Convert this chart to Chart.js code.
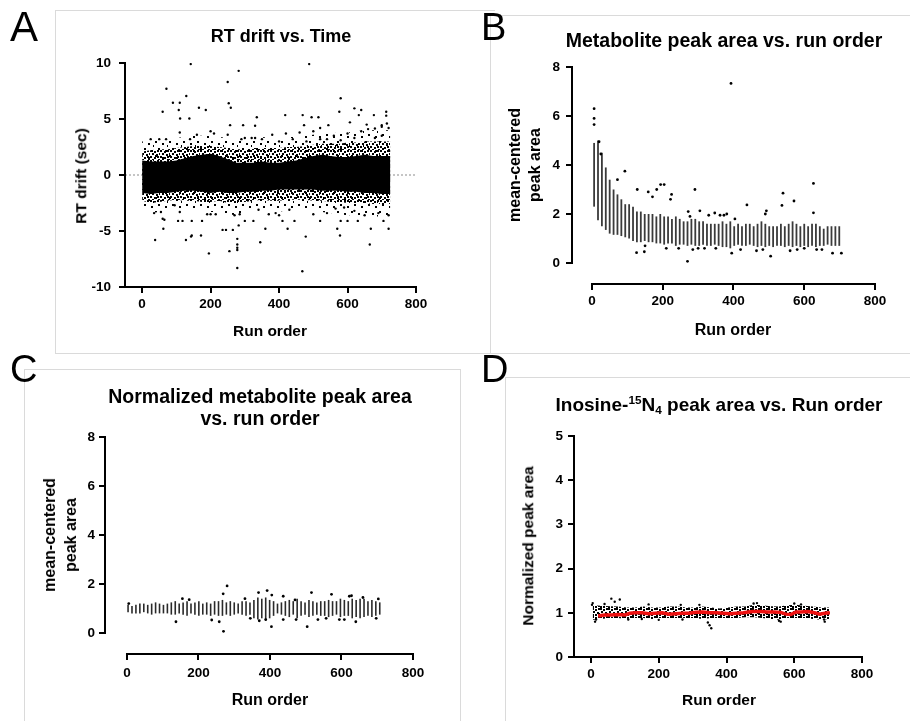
<!DOCTYPE html>
<html><head><meta charset="utf-8">
<script src="https://cdn.jsdelivr.net/npm/chart.js@4.4.1/dist/chart.umd.min.js"></script>
<style>
html,body{margin:0;padding:0;background:#fff;}
#page{position:relative;width:910px;height:721px;overflow:hidden;background:#fff;font-family:"Liberation Sans",Arial,sans-serif;color:#000;}
canvas{position:absolute;}
.box{position:absolute;border:1px solid #dadada;box-sizing:border-box;}
.lbl{position:absolute;line-height:1;font-family:"Liberation Sans",Arial,sans-serif;}
.ttl{position:absolute;font-weight:bold;white-space:nowrap;transform:translateX(-50%);text-align:center;line-height:1;}
.yt{position:absolute;font-weight:bold;white-space:nowrap;text-align:center;transform:translate(-50%,-50%) rotate(-90deg);}
.sup{position:relative;font-size:0.62em;top:-0.6em;}
.sub{position:relative;font-size:0.62em;top:0.25em;}
</style></head><body>
<div id="page">
  <div class="box" style="left:55px;top:10px;width:440px;height:344px;border-right:none;"></div>
  <div class="box" style="left:490px;top:15px;width:440px;height:339px;"></div>
  <div class="box" style="left:24px;top:369px;width:437px;height:370px;"></div>
  <div class="box" style="left:505px;top:377px;width:420px;height:360px;"></div>

  <canvas id="cA" width="470" height="350" style="left:0;top:0;"></canvas>
  <canvas id="cB" width="430" height="350" style="left:480px;top:0;"></canvas>
  <canvas id="cC" width="470" height="361" style="left:0;top:360px;"></canvas>
  <canvas id="cD" width="430" height="361" style="left:480px;top:360px;"></canvas>

  <div class="lbl" style="left:10px;top:6px;font-size:42px;">A</div>
  <div class="lbl" style="left:481px;top:8px;font-size:38px;">B</div>
  <div class="lbl" style="left:10px;top:350px;font-size:38px;">C</div>
  <div class="lbl" style="left:481px;top:350px;font-size:38px;">D</div>

  <div class="ttl" style="left:281px;top:27px;font-size:18px;">RT drift vs. Time</div>
  <div class="ttl" style="left:724px;top:31px;font-size:19.5px;">Metabolite peak area vs. run order</div>
  <div class="ttl" style="left:260px;top:385px;font-size:19.5px;line-height:22px;">Normalized metabolite peak area<br>vs. run order</div>
  <div class="ttl" style="left:719px;top:395px;font-size:19px;">Inosine-<span class="sup">15</span>N<span class="sub">4</span> peak area vs. Run order</div>

  <div class="ttl" style="left:270px;top:323px;font-size:15.5px;">Run order</div>
  <div class="ttl" style="left:733px;top:322px;font-size:16px;">Run order</div>
  <div class="ttl" style="left:270px;top:692px;font-size:16px;">Run order</div>
  <div class="ttl" style="left:719px;top:692px;font-size:15.5px;">Run order</div>

  <div class="yt" style="left:81px;top:176px;font-size:15.5px;line-height:1;">RT drift (sec)</div>
  <div class="yt" style="left:525px;top:165px;font-size:16px;line-height:20px;">mean-centered<br>peak area</div>
  <div class="yt" style="left:60px;top:535px;font-size:16px;line-height:21px;">mean-centered<br>peak area</div>
  <div class="yt" style="left:528px;top:546px;font-size:15.5px;line-height:1;">Normalized peak area</div>
</div>
<script>
// ---------------- DATA ----------------
// Panel A: RT drift vs run order (density envelope read from the picture + individual outliers)
const A_bandRun = [0,25,50,75,100,125,150,175,200,225,250,275,300,325,350,375,400,425,450,475,500,525,550,575,600,625,650,675,700,725];
const A_coreHi = [1.3,1.2,1.2,1.2,1.3,1.5,1.7,1.8,1.9,1.7,1.4,1.1,1.1,1.1,1.2,1.1,1.1,1.2,1.3,1.5,1.7,1.8,1.7,1.6,1.6,1.7,1.8,1.7,1.7,1.7];
const A_coreLo = [-1.6,-1.7,-1.6,-1.6,-1.5,-1.4,-1.4,-1.5,-1.6,-1.5,-1.6,-1.6,-1.5,-1.5,-1.4,-1.4,-1.3,-1.3,-1.3,-1.3,-1.3,-1.4,-1.4,-1.4,-1.5,-1.5,-1.6,-1.6,-1.7,-1.7];
const A_midHi  = [2.1,2.2,2.3,2.3,2.4,2.5,2.6,2.6,2.6,2.5,2.4,2.3,2.3,2.4,2.4,2.4,2.4,2.5,2.5,2.6,2.7,2.8,2.8,2.8,2.9,2.9,3.0,3.0,3.0,3.0];
const A_midLo  = [-2.3,-2.5,-2.4,-2.3,-2.2,-2.3,-2.3,-2.4,-2.4,-2.3,-2.5,-2.5,-2.4,-2.3,-2.2,-2.3,-2.3,-2.2,-2.2,-2.2,-2.3,-2.3,-2.4,-2.4,-2.5,-2.5,-2.5,-2.6,-2.6,-2.6];
const A_outHi  = [3.0,3.2,3.2,3.2,3.3,3.4,3.5,3.5,3.5,3.4,3.3,3.3,3.3,3.3,3.4,3.3,3.3,3.4,3.4,3.5,3.6,3.7,3.7,3.8,3.8,3.9,4.0,4.0,4.0,4.0];
const A_outLo  = [-3.0,-3.4,-3.3,-3.1,-3.0,-3.1,-3.1,-3.2,-3.3,-3.3,-3.5,-3.6,-3.3,-3.2,-3.1,-3.2,-3.3,-3.1,-3.1,-3.1,-3.2,-3.3,-3.4,-3.5,-3.6,-3.6,-3.6,-3.7,-3.7,-3.7];
const A_ptRun  = [142,282,488,71,250,129,580,90,110,253,259,166,186,60,107,620,640,633,576,713,713,138,111,335,418,469,495,515,677,656,680,257,295,330,473,520,544,700,607,
                  110,210,250,330,380,420,460,500,560,600,640,660,700,715,720,25,50,70,140,160,200,290,300,320,350,400,440,480,520,540,580,620,680,700,
                  468,278,195,278,278,278,255,345,38,128,145,143,172,478,578,665,62,235,245,265,360,425,570,668,720,105,118,145,175,300,325,410,445,520,580,600,630,705,
                  35,55,60,65,95,110,190,200,215,270,285,340,370,390,400,430,500,540,565,590,620,650,690,720,278,282];
const A_ptVal  = [9.9,9.3,9.9,7.7,8.3,7.05,6.85,6.45,6.45,6.4,6.0,6.0,5.8,5.65,5.8,5.95,5.8,5.35,5.65,5.65,5.3,5.05,5.05,5.15,5.35,5.35,5.15,5.15,5.35,4.5,4.15,4.45,4.45,4.4,4.45,4.2,4.45,4.45,4.7,
                  3.8,3.7,3.6,3.3,3.6,3.7,3.8,3.9,3.5,3.7,3.9,4.1,4.3,4.6,4.2,3.2,3.2,3.2,3.2,3.6,3.9,3.2,3.3,3.3,3.2,3.0,3.2,3.0,3.2,3.2,3.1,3.3,3.3,3.5,
                  -8.6,-8.3,-7.0,-6.7,-6.5,-6.2,-6.8,-6.0,-5.8,-5.8,-5.4,-5.5,-5.4,-5.5,-5.4,-6.2,-4.8,-4.9,-4.9,-4.9,-4.8,-4.8,-4.8,-4.8,-4.8,-4.1,-4.1,-4.1,-4.1,-4.1,-4.1,-4.1,-4.1,-4.1,-4.1,-4.1,-4.1,-4.1,
                  -3.4,-3.3,-3.9,-4.0,-2.7,-3.3,-3.5,-3.5,-3.5,-3.6,-3.5,-3.1,-3.5,-3.4,-3.6,-3.1,-3.5,-3.4,-3.0,-2.9,-3.2,-3.6,-3.4,-3.6,-5.7,-4.5];
const A_refLine = 0;
const A_xTicks = [0,200,400,600,800];
const A_yTicks = [-10,-5,0,5,10];

// Panel B: metabolite peak area per run (column ranges + outliers)
const B_runs = [6,17,28,39,50,61,72,83,94,105,116,127,138,149,160,171,182,193,204,215,226,237,248,259,270,281,292,303,314,325,336,347,358,369,380,391,402,413,424,435,446,457,468,479,490,501,512,523,534,545,556,567,578,589,600,611,622,633,644,655,666,677,688,699];
const B_hi = [4.9,5.0,4.5,3.9,3.4,3.0,2.8,2.6,2.4,2.4,2.3,2.1,2.1,2.0,2.0,2.0,1.9,2.0,1.9,1.9,1.8,1.9,1.8,1.7,1.7,1.8,1.8,1.7,1.7,1.6,1.6,1.6,1.6,1.7,1.6,1.7,1.5,1.6,1.5,1.6,1.6,1.5,1.6,1.7,1.6,1.5,1.5,1.5,1.6,1.5,1.6,1.7,1.6,1.5,1.6,1.5,1.6,1.6,1.5,1.4,1.5,1.5,1.5,1.5];
const B_lo = [2.3,1.75,1.5,1.35,1.2,1.15,1.15,1.1,1.05,1.0,0.9,0.85,0.85,0.9,0.85,0.85,0.8,0.8,0.75,0.8,0.8,0.7,0.75,0.75,0.7,0.75,0.7,0.7,0.75,0.7,0.7,0.75,0.7,0.65,0.65,0.6,0.7,0.75,0.7,0.7,0.75,0.7,0.65,0.7,0.65,0.7,0.65,0.7,0.7,0.65,0.7,0.65,0.7,0.65,0.7,0.65,0.7,0.65,0.7,0.7,0.75,0.7,0.7,0.7];
const B_ptRun = [393,6,6,6,20,25,93,72,128,159,171,183,194,204,225,222,291,438,540,537,571,626,626,493,490,272,277,305,330,347,362,373,381,404,270,126,148,505,395,680,705,635,650,318,465,483,150,210,245,285,300,350,420,560,580,600];
const B_ptVal = [7.33,6.3,5.9,5.65,4.95,4.45,3.75,3.4,3.0,2.9,2.7,3.0,3.2,3.2,2.8,2.6,3.0,2.37,2.85,2.35,2.53,3.25,2.05,2.13,2.0,2.1,1.9,2.13,1.95,2.04,1.95,1.95,2.0,1.8,0.07,0.42,0.46,0.28,0.4,0.4,0.4,0.55,0.55,0.6,0.5,0.55,0.7,0.6,0.6,0.55,0.6,0.6,0.55,0.5,0.55,0.6];
const B_xTicks = [0,200,400,600,800];
const B_yTicks = [0,2,4,6,8];

// Panel C: normalized metabolite peak area per run
const C_runs = [3,14,25,36,47,58,69,80,91,102,113,124,135,146,157,168,179,190,201,212,223,234,245,256,267,278,289,300,311,322,333,344,355,366,377,388,399,410,421,432,443,454,465,476,487,498,509,520,531,542,553,564,575,586,597,608,619,630,641,652,663,674,685,696,707];
const C_hi = [1.15,1.1,1.15,1.2,1.2,1.15,1.2,1.25,1.2,1.15,1.2,1.25,1.3,1.2,1.25,1.3,1.2,1.25,1.3,1.2,1.25,1.2,1.3,1.3,1.35,1.25,1.3,1.25,1.2,1.3,1.3,1.25,1.35,1.45,1.4,1.45,1.35,1.3,1.2,1.25,1.3,1.35,1.3,1.4,1.3,1.25,1.35,1.3,1.25,1.3,1.3,1.35,1.3,1.3,1.4,1.35,1.3,1.4,1.35,1.4,1.4,1.3,1.35,1.3,1.25];
const C_lo = [0.85,0.8,0.8,0.8,0.85,0.8,0.75,0.8,0.8,0.8,0.8,0.75,0.75,0.8,0.75,0.7,0.8,0.75,0.7,0.75,0.75,0.7,0.75,0.7,0.7,0.75,0.7,0.75,0.8,0.75,0.7,0.75,0.6,0.55,0.6,0.5,0.6,0.7,0.8,0.75,0.7,0.65,0.75,0.6,0.7,0.75,0.65,0.7,0.75,0.7,0.7,0.65,0.7,0.75,0.65,0.7,0.7,0.6,0.65,0.6,0.65,0.7,0.65,0.7,0.75];
const C_ptRun = [280,270,368,392,405,437,516,572,622,628,703,269,404,504,137,237,258,370,388,155,174,345,437,473,534,557,594,608,640,697,5,660,470,330];
const C_ptVal = [1.92,0.07,1.65,1.73,1.55,1.5,1.65,1.58,1.5,1.52,1.39,1.6,0.26,0.26,0.46,0.53,0.46,0.5,0.55,1.4,1.36,0.6,0.55,0.55,0.55,0.6,0.55,0.55,0.46,0.6,1.2,1.45,1.35,1.4];
const C_xTicks = [0,200,400,600,800];
const C_yTicks = [0,2,4,6,8];

// Panel D: Inosine-15N4 normalized peak area (cloud envelope, outliers, running average)
const D_bandRun = [5,30,55,80,105,130,155,180,205,230,255,280,305,330,355,380,405,430,455,480,505,530,555,580,605,630,655,680,705];
const D_hi = [1.17,1.16,1.15,1.14,1.12,1.12,1.14,1.12,1.12,1.14,1.14,1.12,1.12,1.14,1.12,1.1,1.12,1.14,1.14,1.18,1.17,1.15,1.14,1.17,1.18,1.16,1.14,1.12,1.12];
const D_lo = [0.84,0.86,0.88,0.88,0.86,0.88,0.88,0.86,0.88,0.88,0.88,0.88,0.88,0.86,0.88,0.88,0.88,0.88,0.9,0.9,0.88,0.86,0.84,0.88,0.88,0.88,0.86,0.84,0.86];
const D_ptRun = [60,70,85,5,3,12,15,350,355,345,555,560,690,688,110,200,270,150,480,490,600,620,40,170,265,320];
const D_ptVal = [1.32,1.25,1.3,1.22,1.18,0.8,0.85,0.72,0.65,0.78,0.82,0.8,0.8,0.85,0.85,0.84,0.85,0.86,1.21,1.22,1.21,1.19,1.2,1.19,1.18,1.18];
const D_maRun = [21,40,60,80,100,115,130,150,170,190,210,230,250,270,290,310,330,350,370,390,410,430,450,465,480,500,520,540,560,575,590,605,620,640,660,675,690,705];
const D_maVal = [0.93,0.95,0.95,0.96,0.95,0.99,1.0,1.0,0.98,0.99,1.0,0.97,0.98,0.99,0.99,1.01,1.02,1.0,1.0,0.99,0.98,0.99,1.0,1.02,1.03,1.03,1.02,1.02,1.01,0.97,0.96,1.02,1.02,1.03,1.0,0.97,0.99,1.0];
const D_xTicks = [0,200,400,600,800];
const D_yTicks = [0,1,2,3,4,5];

// ---------------- STYLE HELPERS ----------------
function dotPattern(size, dots, w, h){
  const c = document.createElement('canvas'); c.width = size; c.height = size;
  const g = c.getContext('2d'); g.fillStyle = '#000';
  dots.forEach(d => g.fillRect(d[0], d[1], w || 2, h || 2));
  return g.createPattern(c, 'repeat');
}
const densePat  = dotPattern(10, [[0,0],[4,1],[7,0],[2,3],[6,4],[9,3],[0,6],[4,7],[7,6],[2,9],[8,9]]);
const cloudPat  = dotPattern(8, [[0,0],[3,1],[6,0],[1,3],[5,4],[0,6],[3,6],[6,5]]);
const sparsePat = dotPattern(14, [[1,1],[8,3],[4,8],[11,10],[13,5]]);

const FONT = 'Liberation Sans';
function axis(min, max, ticks, isX, pad){
  return {
    type: 'linear', min: min, max: max, offset: false,
    afterBuildTicks: s => { s.ticks = ticks.map(v => ({value: v})); },
    afterFit: s => { if (isX) s.height = 35; else s.width = 45; },
    grid: {display: true, drawOnChartArea: false, drawTicks: true, tickLength: 6, tickWidth: 2, tickColor: '#000', lineWidth: 2, color: '#000', offset: false},
    border: {display: false},
    ticks: {color: '#000', font: {family: FONT, weight: 'bold', size: 13.5}, padding: pad, maxRotation: 0, autoSkip: false, callback: v => String(v)}
  };
}
const axisLinePlugin = {
  id: 'axisLines',
  afterDraw(chart, args, o){
    const ctx = chart.ctx, a = chart.chartArea, x = chart.scales.x, y = chart.scales.y;
    ctx.save(); ctx.strokeStyle = '#000'; ctx.lineWidth = 2; ctx.lineCap = 'square';
    ctx.beginPath();
    ctx.moveTo(x.getPixelForValue(o.x[0]), a.bottom); ctx.lineTo(x.getPixelForValue(o.x[1]), a.bottom);
    ctx.moveTo(a.left, y.getPixelForValue(o.y[0])); ctx.lineTo(a.left, y.getPixelForValue(o.y[1]));
    ctx.stroke(); ctx.restore();
  }
};
// filled envelope between two line datasets (lower first, upper fills to it)
function band(xs, lo, hi, fillStyle, order){
  const lower = {type: 'line', data: xs.map((x, i) => ({x: x, y: lo[i]})), borderColor: 'rgba(0,0,0,0)', borderWidth: 0, pointRadius: 0, fill: false, tension: 0, order: order};
  const upper = {type: 'line', data: xs.map((x, i) => ({x: x, y: hi[i]})), borderColor: 'rgba(0,0,0,0)', borderWidth: 0, pointRadius: 0, fill: '-1', backgroundColor: fillStyle, tension: 0, order: order};
  return [lower, upper];
}
function rangeBars(xs, lo, hi, color, order, thick){
  return {type: 'bar', data: xs.map((x, i) => ({x: x, y: [lo[i], hi[i]]})), backgroundColor: color,
    borderWidth: 0, grouped: false, order: order, barThickness: thick, inflateAmount: 0};
}
function points(xs, ys, r, order){
  return {type: 'scatter', data: xs.map((x, i) => ({x: x, y: ys[i]})), pointRadius: r, pointBackgroundColor: '#000',
    pointBorderWidth: 0, order: order};
}
function makeChart(id, datasets, pad, xs, ys, lines){
  return new Chart(document.getElementById(id), {
    type: 'bar',
    data: {datasets: datasets},
    options: {
      responsive: false, animation: false, devicePixelRatio: 1, events: [],
      layout: {padding: pad},
      plugins: {legend: {display: false}, tooltip: {enabled: false}, axisLines: lines, filler: {propagate: false}},
      scales: {x: xs, y: ys}
    },
    plugins: [axisLinePlugin]
  });
}

// ---------------- CHARTS ----------------
makeChart('cA', [
  {type: 'line', data: [{x: -50, y: A_refLine}, {x: 800, y: A_refLine}], borderColor: '#8c8c8c', borderWidth: 1, borderDash: [2, 2], pointRadius: 0, fill: false, order: 10},
  ...band(A_bandRun, A_outLo, A_outHi, sparsePat, 8),
  ...band(A_bandRun, A_midLo, A_midHi, densePat, 7),
  ...band(A_bandRun, A_coreLo, A_coreHi, '#000', 6),
  points(A_ptRun, A_ptVal, 1.2, 1)
], {left: 80, top: 63, right: 54, bottom: 28},
  axis(-50, 800, A_xTicks, true, 3), axis(-10, 10, A_yTicks, false, 8), {x: [-50, 800], y: [-10, 10]});

makeChart('cB', [
  rangeBars(B_runs, B_lo, B_hi, '#3a3a3a', 5, 1.8),
  points(B_ptRun, B_ptVal, 1.4, 1)
], {left: 47, top: 67, right: 35, bottom: 31},
  axis(-56.5, 800, B_xTicks, true, 3), axis(-0.857, 8, B_yTicks, false, 6), {x: [0, 800], y: [0, 8]});

makeChart('cC', [
  rangeBars(C_runs, C_lo, C_hi, '#2a2a2a', 5, 1.6),
  points(C_ptRun, C_ptVal, 1.4, 1)
], {left: 60, top: 77, right: 57, bottom: 32},
  axis(-61.5, 800, C_xTicks, true, 5), axis(-0.857, 8, C_yTicks, false, 4), {x: [0, 800], y: [0, 8]});

makeChart('cD', [
  ...band(D_bandRun, D_lo, D_hi, cloudPat, 6),
  points(D_ptRun, D_ptVal, 1.2, 3),
  {type: 'line', data: D_maRun.map((x, i) => ({x: x, y: D_maVal[i]})), borderColor: '#ee1111', borderWidth: 3.5, pointRadius: 0, tension: 0, fill: false, order: 1}
], {left: 49, top: 76, right: 48, bottom: 29},
  axis(-50.2, 800, D_xTicks, true, 3), axis(0, 5, D_yTicks, false, 5), {x: [-50.2, 800], y: [0, 5]});
</script>
</body></html>
